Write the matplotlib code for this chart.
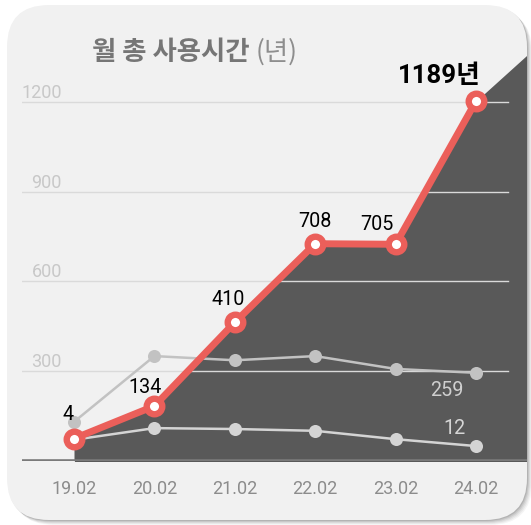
import matplotlib
matplotlib.use("Agg")
import matplotlib.pyplot as plt
from matplotlib.patches import FancyBboxPatch
import numpy as np

# ---------------- data ----------------
categories = ["19.02", "20.02", "21.02", "22.02", "23.02", "24.02"]
total_values = [74, 183, 463, 726, 724, 1203]          # plotted
total_labels = ["4", "134", "410", "708", "705", "1189년"]
upper_values = [130, 350, 336, 350, 307, 294]
lower_values = [70, 109, 106, 100, 72, 49]
upper_label = "259"
lower_label = "12"
fill_tail_value = 1357          # area continues past the last month
y_ticks = [300, 600, 900, 1200]

# ---------------- styles ----------------
RED = "#eb5f5a"
DARK = "#595959"
CARD = "#f1f1f1"
NUM_FONT = ["Roboto", "Noto Sans CJK KR", "DejaVu Sans"]
KR_FONT = ["Noto Sans CJK KR", "DejaVu Sans"]

W, H = 531, 525
fig = plt.figure(figsize=(W / 100, H / 100), dpi=100)
fig.patch.set_facecolor("white")

# background axes in pixel space for the card
bg = fig.add_axes([0, 0, 1, 1])
bg.set_xlim(0, W)
bg.set_ylim(H, 0)
bg.axis("off")

cx0, cy0, cx1, cy1, rad = 7, 5, 527, 520, 42
for i, a in enumerate([0.04, 0.05, 0.06, 0.08, 0.10]):
    off = 5 - i
    sh = FancyBboxPatch((cx0 + off + rad, cy0 + off + rad),
                        (cx1 - cx0) - 2 * rad, (cy1 - cy0) - 2 * rad,
                        boxstyle=f"round,pad={rad},rounding_size={rad}",
                        fc="black", ec="none", alpha=a, zorder=0)
    bg.add_patch(sh)
card = FancyBboxPatch((cx0 + rad, cy0 + rad), (cx1 - cx0) - 2 * rad, (cy1 - cy0) - 2 * rad,
                      boxstyle=f"round,pad={rad},rounding_size={rad}",
                      fc=CARD, ec="none", zorder=1)
bg.add_patch(card)

# title
fig.text(92 / W, 1 - 52 / H, "월 총 사용시간", family=KR_FONT, fontsize=19,
         fontweight="bold", color="#767676", ha="left", va="center")
fig.text(256 / W, 1 - 52 / H, "(년)", family=KR_FONT, fontsize=19,
         color="#8e8e8e", ha="left", va="center")

# main axes
left_px, right_px, top_px, base_px = 22, 527, 5, 460.7
ax = fig.add_axes([left_px / W, (H - base_px) / H, (right_px - left_px) / W, (base_px - top_px) / H])
ax.patch.set_alpha(0)
x = np.arange(len(categories))
step = 80.4
x0_px = 74
ax.set_xlim((left_px - x0_px) / step, (right_px - x0_px) / step)
ppu = 0.2989
ax.set_ylim(0, (base_px - top_px) / ppu)
for s in ax.spines.values():
    s.set_visible(False)

# dark area under the main line (continuing to the edge)
xr = ax.get_xlim()[1]
fx = np.concatenate([x, [xr]])
fy = np.concatenate([total_values, [fill_tail_value]])
area = ax.fill_between(fx, 0, fy, color=DARK, lw=0, zorder=1)
area.set_clip_path(card)

# gridlines
grid_end = x[-1] + 32 / step
for v in y_ticks:
    ax.plot([ax.get_xlim()[0], grid_end], [v, v], color="#dadada", lw=1.0, zorder=2)
    ax.annotate(str(v), xy=(0, v), xycoords=("axes fraction", "data"),
                xytext=(40 / 1.389, 4 / 1.389), textcoords="offset points",
                ha="right", va="baseline", fontsize=13, family=NUM_FONT, color="#c8c8c8")

# baseline
ax.axhline(0, color="#7a7a7a", lw=2.6, zorder=2, solid_capstyle="butt")

# gray series
ax.plot(x, lower_values, color="#d4d4d4", lw=1.8, marker="o", ms=9.4, mew=0, zorder=3)
ax.plot(x, upper_values, color="#c2c2c2", lw=1.8, marker="o", ms=9.4, mew=0, zorder=3)

# main series
ax.plot(x, total_values, color=RED, lw=5, zorder=4, solid_joinstyle="round")
ax.plot(x, total_values, ls="none", marker="o", ms=11.2, mfc="white", mec=RED, mew=4.6, zorder=5)

# value labels (offsets in px)
offs = [(-6, 24), (-9, 19), (-7, 23), (0, 22), (-19, 20), (-37, 25)]
for i, (lab, (dx, dy)) in enumerate(zip(total_labels, offs)):
    last = i == len(total_labels) - 1
    ax.annotate(lab, xy=(x[i], total_values[i]), xytext=(dx / 1.389, dy / 1.389),
                textcoords="offset points", ha="center", va="center",
                fontsize=18.5 if last else 14.2, fontweight="bold" if last else "normal",
                family=NUM_FONT, color="#000000", zorder=6)

ax.annotate(upper_label, xy=(x[-1], upper_values[-1]), xytext=(-29 / 1.389, -18 / 1.389),
            textcoords="offset points", ha="center", va="center", fontsize=14.2,
            family=NUM_FONT, color="#cfcfcf", zorder=6)
ax.annotate(lower_label, xy=(x[-1], lower_values[-1]), xytext=(-22 / 1.389, 18 / 1.389),
            textcoords="offset points", ha="center", va="center", fontsize=14.2,
            family=NUM_FONT, color="#d6d6d6", zorder=6)

# x ticks
ax.set_xticks(x)
ax.set_xticklabels(categories, fontsize=13, color="#8c8c8c", family=NUM_FONT)
ax.tick_params(axis="x", length=0, pad=14)
ax.set_yticks([])

fig.savefig("out.png", dpi=100, facecolor="white")
